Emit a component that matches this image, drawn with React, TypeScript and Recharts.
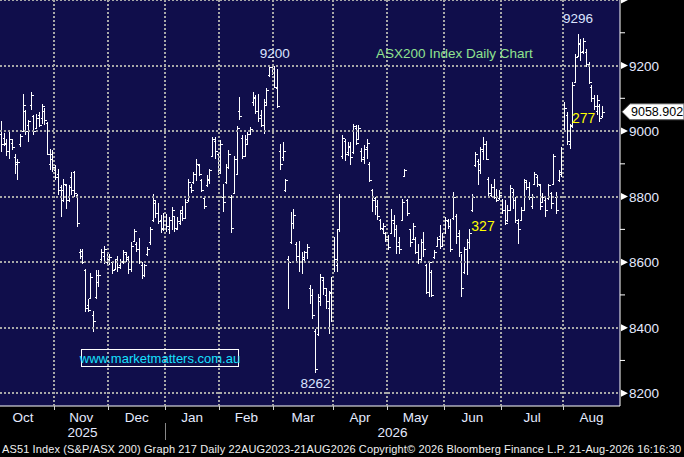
import React from "react";
import {
  ComposedChart,
  Bar,
  XAxis,
  YAxis,
  CartesianGrid,
  ReferenceDot,
} from "recharts";

// months on the time axis; the first and last are only partly shown
const MONTHS = ["Oct", "Nov", "Dec", "Jan", "Feb", "Mar", "Apr", "May", "Jun", "Jul", "Aug"];
const MONTH_YEARS = [2025, 2025, 2025, 2026, 2026, 2026, 2026, 2026, 2026, 2026, 2026];
const MONTH_DAYS_SHOWN = [20, 20, 21, 20, 20, 22, 20, 21, 21, 23, 15];
const MONTH_DAYS_FULL = [23, 20, 21, 20, 20, 22, 20, 21, 21, 23, 21];

// daily OHLC, AS51 Index
const OPEN = [
  // Oct
  8990, 8980, 8960, 8940, 8965, 8920, 8905, 8960, 9000, 9060, 9020, 9080, 9045, 9010, 9050, 9040, 9060, 9025, 8900, 8930,
  // Nov
  8880, 8870, 8830, 8820, 8835, 8800, 8860, 8875, 8805, 8630, 8635, 8575, 8470, 8490, 8440, 8495, 8540, 8610, 8620, 8600,
  // Dec
  8600, 8600, 8580, 8610, 8590, 8600, 8625, 8615, 8580, 8665, 8655, 8640, 8590, 8560, 8625, 8660, 8730, 8780, 8750, 8730, 8705,
  // Jan
  8740, 8700, 8730, 8740, 8700, 8720, 8760, 8735, 8790, 8830, 8845, 8870, 8895, 8850, 8795, 8835, 8850, 8925, 8970, 8930,
  // Feb
  8880, 8800, 8845, 8890, 8800, 8810, 8870, 9060, 8980, 8925, 8960, 8990, 9090, 9100, 9060, 9050, 9020, 9080, 9170, 9195,
  // Mar
  9198, 9130, 8940, 8920, 8820, 8610, 8660, 8720, 8655, 8620, 8600, 8610, 8630, 8520, 8500, 8390, 8380, 8480, 8545, 8500, 8460, 8510,
  // Apr
  8600, 8590, 8700, 8925, 8970, 8935, 8950, 8935, 9010, 8975, 8940, 8920, 8950, 8900, 8820, 8795, 8770, 8730, 8700, 8690,
  // May
  8670, 8690, 8720, 8700, 8660, 8730, 8862, 8790, 8700, 8670, 8670, 8630, 8610, 8660, 8590, 8510, 8570, 8615, 8650, 8680, 8650,
  // Jun
  8690, 8725, 8710, 8735, 8740, 8690, 8600, 8570, 8640, 8660, 8760, 8895, 8910, 8880, 8940, 8960, 8855, 8805, 8830, 8800, 8795,
  // Jul
  8790, 8760, 8730, 8760, 8815, 8790, 8720, 8730, 8760, 8845, 8830, 8770, 8840, 8860, 8835, 8785, 8790, 8795, 8810, 8840, 8800, 8850, 8870,
  // Aug
  9010, 9050, 8960, 9020, 9150, 9230, 9265, 9245, 9240, 9200, 9135, 9100, 9060, 9075, 9045,
];
const HIGH = [
  9030, 8995, 8977, 9002, 8977, 8931, 8916, 8992, 9114, 9065, 9035, 9119, 9048, 9053, 9058, 9084, 9070, 9028, 8946, 8941,
  8895, 8885, 8835, 8855, 8840, 8834, 8875, 8878, 8808, 8641, 8641, 8580, 8488, 8566, 8450, 8575, 8575, 8641, 8650, 8630,
  8625, 8605, 8610, 8620, 8610, 8636, 8630, 8620, 8660, 8702, 8660, 8675, 8600, 8595, 8646, 8707, 8809, 8790, 8780, 8745, 8750,
  8748, 8738, 8768, 8742, 8737, 8758, 8770, 8793, 8854, 8840, 8875, 8915, 8900, 8854, 8800, 8865, 8885, 8982, 8982, 8936,
  8972, 8839, 8900, 8941, 8805, 8925, 9017, 9104, 8987, 8987, 8997, 9012, 9119, 9109, 9114, 9063, 9099, 9130, 9196, 9198,
  9200, 9190, 8961, 8966, 8855, 8620, 8752, 8763, 8661, 8666, 8630, 8635, 8656, 8529, 8519, 8396, 8503, 8564, 8555, 8520, 8513, 8554,
  8676, 8702, 8808, 8987, 8977, 8966, 8966, 9023, 9018, 9018, 8947, 8957, 8977, 8906, 8824, 8800, 8789, 8733, 8718, 8692,
  8682, 8763, 8743, 8712, 8677, 8794, 8885, 8794, 8702, 8718, 8677, 8656, 8672, 8692, 8595, 8605, 8575, 8636, 8677, 8712, 8690,
  8738, 8733, 8733, 8814, 8748, 8697, 8626, 8646, 8672, 8700, 8809, 8936, 8916, 8950, 8982, 8970, 8860, 8840, 8855, 8824, 8820,
  8794, 8789, 8774, 8834, 8824, 8799, 8733, 8768, 8855, 8850, 8845, 8809, 8875, 8865, 8839, 8810, 8798, 8840, 8815, 8931, 8814, 8880, 8951,
  9089, 9058, 9022, 9150, 9236, 9296, 9280, 9285, 9250, 9210, 9140, 9109, 9110, 9084, 9075,
];
const LOW = [
  8935, 8955, 8925, 8916, 8941, 8870, 8850, 8951, 8997, 8987, 8967, 9063, 8987, 9007, 9012, 9023, 9018, 8926, 8880, 8875,
  8850, 8804, 8738, 8784, 8763, 8784, 8804, 8799, 8707, 8610, 8595, 8448, 8447, 8488, 8387, 8488, 8523, 8600, 8595, 8590,
  8590, 8564, 8575, 8570, 8580, 8595, 8600, 8565, 8570, 8661, 8630, 8595, 8550, 8555, 8620, 8651, 8722, 8735, 8715, 8690, 8695,
  8692, 8687, 8697, 8692, 8697, 8712, 8725, 8732, 8783, 8810, 8839, 8849, 8864, 8814, 8763, 8830, 8839, 8920, 8915, 8865,
  8870, 8753, 8839, 8885, 8690, 8810, 8865, 9035, 8915, 8920, 8956, 8987, 9078, 9053, 9028, 9012, 8992, 9075, 9165, 9170,
  9130, 9070, 8880, 8910, 8814, 8457, 8656, 8702, 8600, 8570, 8564, 8605, 8610, 8473, 8427, 8262, 8376, 8467, 8500, 8457, 8381, 8417,
  8569, 8569, 8692, 8915, 8910, 8925, 8895, 8931, 8957, 8972, 8906, 8900, 8916, 8845, 8753, 8743, 8728, 8697, 8687, 8660,
  8636, 8687, 8677, 8626, 8626, 8728, 8860, 8740, 8646, 8667, 8626, 8595, 8605, 8615, 8504, 8494, 8494, 8610, 8646, 8641, 8645,
  8687, 8700, 8631, 8728, 8656, 8616, 8493, 8565, 8560, 8640, 8753, 8890, 8834, 8870, 8911, 8911, 8799, 8799, 8794, 8784, 8790,
  8748, 8712, 8722, 8758, 8763, 8718, 8656, 8728, 8758, 8819, 8789, 8763, 8834, 8830, 8758, 8780, 8737, 8790, 8763, 8839, 8748, 8845, 8860,
  9002, 8956, 8946, 9010, 9150, 9226, 9215, 9235, 9195, 9145, 9089, 9065, 9050, 9028, 9040,
];
const CLOSE = [
  8960, 8965, 8940, 8975, 8950, 8900, 8905, 8985, 9080, 9000, 9030, 9110, 9000, 9040, 9020, 9075, 9035, 8930, 8915, 8890,
  8860, 8820, 8790, 8840, 8790, 8830, 8820, 8810, 8720, 8620, 8600, 8460, 8455, 8555, 8420, 8560, 8560, 8630, 8640, 8610,
  8615, 8575, 8600, 8585, 8605, 8630, 8610, 8580, 8650, 8695, 8640, 8605, 8560, 8590, 8640, 8700, 8790, 8750, 8725, 8700, 8740,
  8710, 8730, 8760, 8705, 8725, 8750, 8735, 8785, 8845, 8820, 8870, 8900, 8870, 8820, 8770, 8855, 8880, 8975, 8940, 8880,
  8960, 8783, 8890, 8930, 8705, 8915, 9010, 9045, 8925, 8975, 8990, 9005, 9105, 9060, 9040, 9020, 9090, 9125, 9195, 9180,
  9135, 9075, 8900, 8940, 8850, 8600, 8720, 8745, 8620, 8600, 8615, 8630, 8645, 8500, 8440, 8275, 8495, 8555, 8520, 8480, 8505, 8480,
  8610, 8700, 8800, 8980, 8930, 8955, 8920, 9015, 8965, 9010, 8915, 8945, 8965, 8850, 8790, 8770, 8740, 8705, 8710, 8670,
  8645, 8730, 8700, 8650, 8640, 8785, 8880, 8750, 8660, 8710, 8630, 8610, 8660, 8640, 8510, 8600, 8500, 8630, 8670, 8650, 8680,
  8730, 8710, 8640, 8800, 8680, 8630, 8520, 8640, 8660, 8690, 8800, 8930, 8900, 8945, 8960, 8915, 8810, 8830, 8800, 8790, 8805,
  8760, 8720, 8760, 8825, 8790, 8730, 8700, 8760, 8850, 8830, 8800, 8800, 8870, 8840, 8770, 8800, 8760, 8835, 8780, 8925, 8760, 8875, 8945,
  9070, 8970, 9015, 9140, 9225, 9270, 9240, 9275, 9205, 9150, 9100, 9075, 9095, 9040, 9058.902,
];

const GRID_PRICES = [8200, 8400, 8600, 8800, 9000, 9200, 9400];
const MINOR_PRICES = [8300, 8500, 8700, 8900, 9100, 9300];

const FONT = "'Liberation Sans', Arial, sans-serif";
const NAVY = "#100e4b";
const GRID = "#a8a8a8";
const AXIS_TEXT = "#e4eaff";

const data = OPEN.map((o, i) => ({ i, open: o, high: HIGH[i], low: LOW[i], close: CLOSE[i] }));
const LAST = CLOSE[CLOSE.length - 1];

// month layout in bar-index units
const monthStart: number[] = [];
{
  let acc = 0;
  MONTH_DAYS_SHOWN.forEach((n, k) => {
    monthStart.push(k === 0 ? n - MONTH_DAYS_FULL[0] : acc);
    acc += n;
  });
}
const X_MIN = -0.5;
const X_MAX = monthStart[monthStart.length - 1] + MONTH_DAYS_FULL[MONTH_DAYS_FULL.length - 1] - 0.5;
const MONTH_BOUNDS = monthStart.slice(1).map((s) => s - 0.5);
const MONTH_CENTERS = monthStart.map((s, k) => s + MONTH_DAYS_FULL[k] / 2 - 0.5);
const YEARS = Array.from(new Set(MONTH_YEARS));
const YEAR_BOUNDS: number[] = [];
const YEAR_CENTERS = YEARS.map((yr) => {
  const first = MONTH_YEARS.indexOf(yr);
  const last = MONTH_YEARS.lastIndexOf(yr);
  const a = Math.max(X_MIN, monthStart[first] - 0.5);
  const b = Math.min(X_MAX, monthStart[last] + MONTH_DAYS_FULL[last] - 0.5);
  if (first > 0) YEAR_BOUNDS.push(a);
  return (a + b) / 2;
});
const X_TICKS = [...MONTH_BOUNDS, ...MONTH_CENTERS, ...YEAR_CENTERS];

const argMax = (arr: number[], from = 0, to = arr.length) => {
  let best = from;
  for (let k = from; k < to; k++) if (arr[k] > arr[best]) best = k;
  return best;
};
const PEAK = argMax(HIGH);
const FEB_PEAK = argMax(HIGH, 0, 150);
const TROUGH = LOW.indexOf(Math.min(...LOW));

function OhlcBar(props: any) {
  const { x, y, width, height, payload } = props;
  if (x == null || y == null || !payload) return null;
  const top = Math.min(y, y + height);
  const bottom = Math.max(y, y + height);
  const span = payload.high - payload.low || 1;
  const at = (v: number) => top + ((payload.high - v) / span) * (bottom - top);
  const cx = Math.round(x + width / 2) + 0.5;
  const yo = Math.round(at(payload.open)) + 0.5;
  const yc = Math.round(at(payload.close)) + 0.5;
  return (
    <g stroke="#ffffff" strokeWidth={1.2} shapeRendering="crispEdges">
      <line x1={cx} x2={cx} y1={top} y2={bottom} />
      <line x1={cx - 2} x2={cx} y1={yo} y2={yo} />
      <line x1={cx} x2={cx + 2} y1={yc} y2={yc} />
    </g>
  );
}

// right axis: arrow + label on the major levels, dotted grid line across the plot
function PriceTick(props: any) {
  const { x, y, payload } = props;
  const v = payload.value;
  if (v === LAST) {
    return (
      <g>
        <polygon
          points={`${x + 2},${y} ${x + 10},${y - 8} ${x + 64},${y - 8} ${x + 64},${y + 8} ${x + 10},${y + 8}`}
          fill="#ffffff"
          stroke="#555"
        />
        <text x={x + 11} y={y + 4.5} fill="#000" fontSize={12.5} fontFamily={FONT}>
          {v.toFixed(3)}
        </text>
      </g>
    );
  }
  if (GRID_PRICES.includes(v)) {
    const gy = Math.round(y);
    return (
      <g>
        <line
          x1={0}
          x2={x}
          y1={gy}
          y2={gy}
          stroke={GRID}
          strokeWidth={2}
          strokeDasharray="2 2"
          shapeRendering="crispEdges"
        />
        <polygon points={`${x + 1},${y - 3.5} ${x + 8},${y} ${x + 1},${y + 3.5}`} fill="#ffffff" />
        {v < 9400 && (
          <text x={x + 9} y={y + 5} fill={AXIS_TEXT} fontSize={13.5} fontFamily={FONT}>
            {v}
          </text>
        )}
      </g>
    );
  }
  return <line x1={x} x2={x + 5} y1={y} y2={y} stroke="#ffffff" />;
}

// time axis: month names, years, and month boundaries with their dotted grid line
function TimeTick(props: any) {
  const { x, y, payload } = props;
  const v = payload.value;
  const m = MONTH_CENTERS.indexOf(v);
  if (m >= 0) {
    return (
      <text x={x} y={y + 16} textAnchor="middle" fill={AXIS_TEXT} fontSize={13.5} fontFamily={FONT}>
        {MONTHS[m]}
      </text>
    );
  }
  const yr = YEAR_CENTERS.indexOf(v);
  if (yr >= 0) {
    return (
      <text x={x} y={y + 31} textAnchor="middle" fill={AXIS_TEXT} fontSize={13.5} fontFamily={FONT}>
        {YEARS[yr]}
      </text>
    );
  }
  const gx = Math.round(x);
  return (
    <g>
      <line
        x1={gx}
        x2={gx}
        y1={0}
        y2={y}
        stroke={GRID}
        strokeWidth={2}
        strokeDasharray="2 2"
        shapeRendering="crispEdges"
      />
      <line x1={gx + 0.5} x2={gx + 0.5} y1={y} y2={y + 4} stroke="#cfcfcf" />
      {YEAR_BOUNDS.includes(v) && <line x1={gx + 0.5} x2={gx + 0.5} y1={y + 17} y2={y + 34} stroke="#888" />}
    </g>
  );
}

export default function App() {
  return (
    <div style={{ position: "absolute", left: 0, top: 0, width: 684, height: 457, background: "#000" }}>
      <ComposedChart width={684} height={457} data={data} margin={{ top: 0, right: 0, bottom: 0, left: 0 }}>
        <CartesianGrid fill={NAVY} horizontal={false} vertical={false} />
        <XAxis
          dataKey="i"
          type="number"
          domain={[X_MIN, X_MAX]}
          allowDataOverflow
          ticks={X_TICKS}
          interval={0}
          height={51}
          tickSize={0}
          tickMargin={0}
          tickLine={false}
          axisLine={{ stroke: "#ffffff" }}
          tick={<TimeTick />}
        />
        <YAxis
          orientation="right"
          width={64}
          domain={[8161, 9400]}
          allowDataOverflow
          ticks={[...GRID_PRICES, ...MINOR_PRICES, LAST]}
          interval={0}
          tickSize={0}
          tickMargin={0}
          tickLine={false}
          axisLine={{ stroke: "#ffffff" }}
          tick={<PriceTick />}
        />
        <Bar
          dataKey={(d: any) => [d.low, d.high]}
          barSize={2}
          isAnimationActive={false}
          shape={<OhlcBar />}
        />
        <ReferenceDot
          x={PEAK}
          y={HIGH[PEAK]}
          r={0}
          fill="none"
          stroke="none"
          label={{ value: String(Math.round(HIGH[PEAK])), position: "top", offset: 11, fill: "#dbe4ff", fontSize: 13.5, fontFamily: FONT }}
        />
        <ReferenceDot
          x={FEB_PEAK}
          y={HIGH[FEB_PEAK]}
          r={0}
          fill="none"
          stroke="none"
          label={{ value: String(Math.round(HIGH[FEB_PEAK])), position: "top", offset: 8, fill: "#dbe4ff", fontSize: 13.5, fontFamily: FONT }}
        />
        <ReferenceDot
          x={TROUGH}
          y={LOW[TROUGH]}
          r={0}
          fill="none"
          stroke="none"
          label={{ value: String(Math.round(LOW[TROUGH])), position: "bottom", offset: 6, fill: "#dbe4ff", fontSize: 13.5, fontFamily: FONT }}
        />
        <ReferenceDot
          x={177.9}
          y={8710}
          r={0}
          fill="none"
          stroke="none"
          label={{ value: "327", position: "center", fill: "#ffff00", fontSize: 14, fontFamily: FONT }}
        />
        <ReferenceDot
          x={215.1}
          y={9041}
          r={0}
          fill="none"
          stroke="none"
          label={{ value: "277", position: "center", fill: "#ffff00", fontSize: 14, fontFamily: FONT }}
        />
      </ComposedChart>
      <svg
        width={684}
        height={457}
        style={{ position: "absolute", left: 0, top: 0, pointerEvents: "none" }}
        fontFamily={FONT}
      >
        <text x={376} y={58} fill="#8fe28f" fontSize={13.5}>
          ASX200 Index Daily Chart
        </text>
        <rect x={81.5} y={349.5} width={157} height={17} fill="none" stroke="#ffffff" />
        <text x={160} y={362.5} textAnchor="middle" fill="#16e0ff" fontSize={13}>
          www.marketmatters.com.au
        </text>
        <text x={2} y={453} fill="#f0f0f0" fontSize={11} textLength={679} lengthAdjust="spacing">
          AS51 Index (S&amp;P/ASX 200) Graph 217 Daily 22AUG2023-21AUG2026 Copyright© 2026 Bloomberg Finance L.P. 21-Aug-2026 16:16:30
        </text>
      </svg>
    </div>
  );
}
